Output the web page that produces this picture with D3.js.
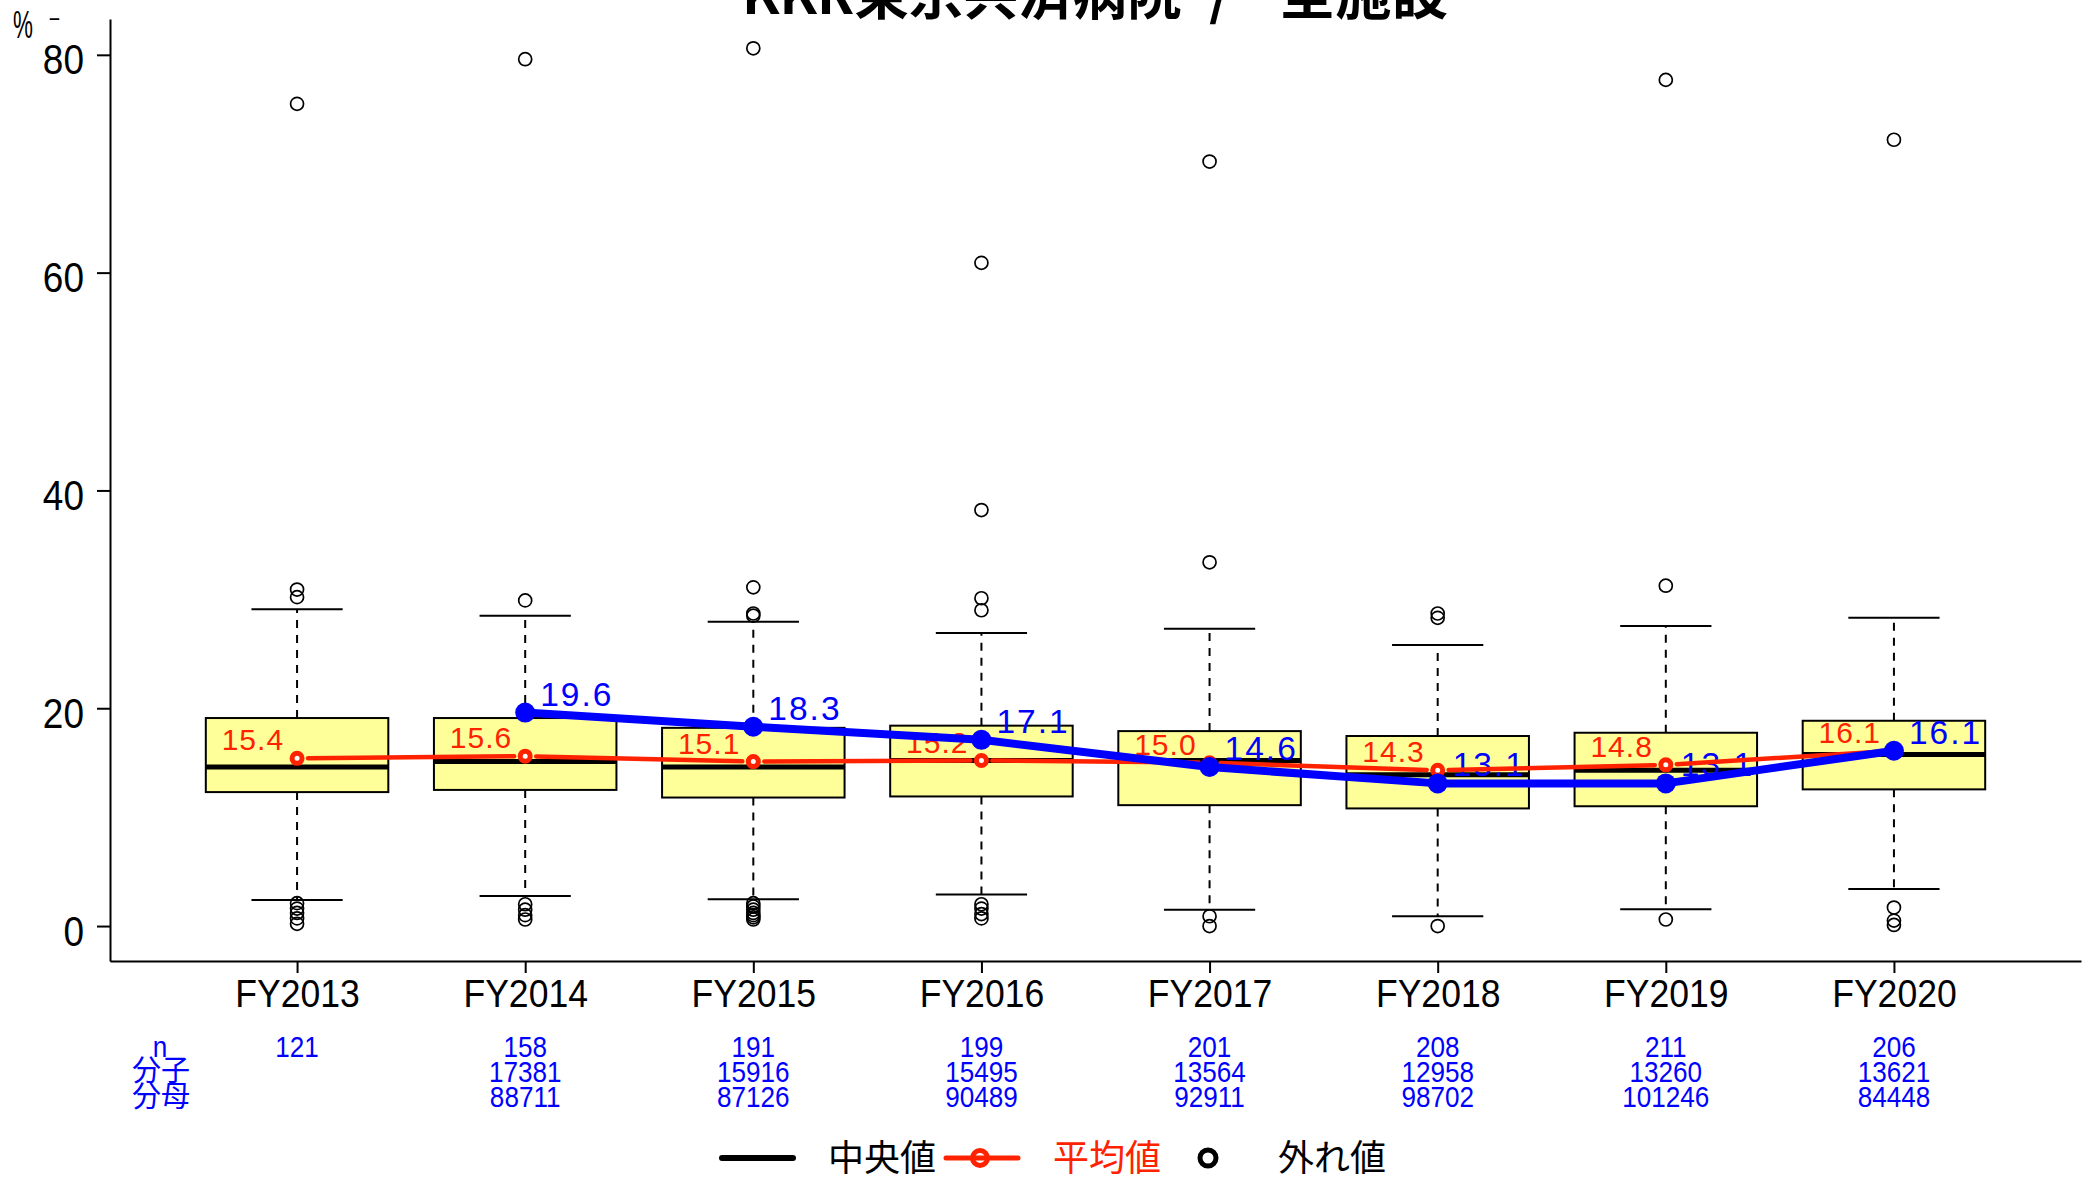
<!DOCTYPE html>
<html><head><meta charset="utf-8">
<script src="https://cdn.jsdelivr.net/npm/d3@7"></script>
<style>html,body{margin:0;padding:0;background:#fff;} svg{display:block;}</style>
</head><body>
<script>
// ---------------- data ----------------
const titleParts = ["KKR東京共済病院", "/", "全施設"];
const categories = ["FY2013","FY2014","FY2015","FY2016","FY2017","FY2018","FY2019","FY2020"];
const whiskerLow  = [2.4, 2.75, 2.45, 2.9, 1.5, 0.9, 1.55, 3.4];
const q1          = [12.3, 12.5, 11.8, 11.9, 11.1, 10.8, 11.0, 12.55];
const medians     = [14.6, 15.1, 14.6, 15.2, 15.2, 13.9, 14.3, 15.75];
const q3          = [19.1, 19.1, 18.2, 18.4, 17.9, 17.45, 17.75, 18.85];
const whiskerHigh = [29.1, 28.5, 27.95, 26.9, 27.3, 25.8, 27.55, 28.3];
const outliers = [
  [75.5, 30.9, 30.2, 2.1, 1.6, 1.2, 0.7, 0.2],
  [79.6, 29.9, 2.0, 1.5, 1.0, 0.6],
  [80.6, 31.1, 28.7, 28.5, 2.1, 1.8, 1.5, 1.2, 1.0, 0.8, 0.6],
  [60.9, 38.2, 30.1, 29.0, 2.0, 1.6, 1.1, 0.7],
  [70.2, 33.4, 0.9, 0.0],
  [28.7, 28.3, 0.0],
  [77.7, 31.25, 0.6],
  [72.2, 1.7, 0.5, 0.1]
];
const means       = [15.4, 15.6, 15.1, 15.2, 15.0, 14.3, 14.8, 16.1];
const hospital    = [null, 19.6, 18.3, 17.1, 14.6, 13.1, 13.1, 16.1];
const nCounts     = ["121","158","191","199","201","208","211","206"];
const numerators  = ["","17381","15916","15495","13564","12958","13260","13621"];
const denominators= ["","88711","87126","90489","92911","98702","101246","84448"];
const yTicks = [0, 20, 40, 60, 80];
const rowLabels = ["n", "分子", "分母"];
const legendLabels = ["中央値", "平均値", "外れ値"];

// ---------------- setup ----------------
const W = 2089, H = 1180;
const FONT = "'Liberation Sans', Arial, Helvetica, sans-serif";
const CJK = "'Noto Sans CJK JP', 'Noto Sans CJK SC', sans-serif";
const RED = "#FF2200", BLUE = "#0000FF", BOXFILL = "#FFFF99";

const svg = d3.select("body").append("svg").attr("width", W).attr("height", H)
  .style("background", "#fff");

const x = d3.scaleLinear().domain([0.18, 8.82]).range([110, 2081]);
const y = d3.scaleLinear().domain([-3.21, 83.29]).range([961, 19]);
const step = x(2) - x(1);
const boxW = step * 0.8, capW = boxW * 0.5;

function stext(g, tx, ty, str, size, sx, anchor, color, family, weight) {
  return g.append("text")
    .attr("transform", `translate(${tx},${ty}) scale(${sx},1)`)
    .attr("text-anchor", anchor || "middle")
    .attr("font-family", family || FONT)
    .attr("font-size", size)
    .attr("font-weight", weight || "normal")
    .attr("fill", color || "#000")
    .text(str);
}

// ---------------- title ----------------
const title = svg.append("text")
  .attr("y", 14)
  .attr("font-family", CJK).attr("font-weight", "bold").attr("font-size", 57);
title.append("tspan").attr("x", 742).attr("textLength", 440).attr("lengthAdjust", "spacingAndGlyphs").text(titleParts[0]);
title.append("tspan").attr("x", 1220).attr("text-anchor", "middle").text(" " + titleParts[1] + " ");
title.append("tspan").attr("x", 1279).attr("textLength", 169).attr("lengthAdjust", "spacingAndGlyphs").text(titleParts[2]);

// "% -" label top-left
stext(svg, 23, 38, "%", 38, 0.59, "middle");
stext(svg, 54.5, 27.5, "−", 26, 0.75, "middle");

// ---------------- axes ----------------
const yAxis = svg.append("g").attr("transform", "translate(110,0)")
  .call(d3.axisLeft(y).tickValues(yTicks).tickSize(13).tickSizeOuter(0).tickFormat(d3.format("d")));
yAxis.select(".domain").attr("stroke", "#000").attr("stroke-width", 2);
yAxis.selectAll(".tick line").attr("stroke", "#000").attr("stroke-width", 2);
yAxis.selectAll(".tick text")
  .attr("x", null).attr("dy", null)
  .attr("transform", "translate(-26,19) scale(0.86,1)")
  .attr("text-anchor", "end")
  .attr("font-family", FONT).attr("font-size", 43).attr("fill", "#000");

const xAxis = svg.append("g").attr("transform", "translate(0,961)")
  .call(d3.axisBottom(x).tickValues(d3.range(1, categories.length + 1)).tickSize(12).tickSizeOuter(0)
    .tickFormat(i => categories[i - 1]));
xAxis.select(".domain").attr("stroke", "#000").attr("stroke-width", 2);
xAxis.selectAll(".tick line").attr("stroke", "#000").attr("stroke-width", 2);
xAxis.selectAll(".tick text")
  .attr("y", null).attr("dy", null)
  .attr("transform", "translate(0,46) scale(0.9,1)")
  .attr("text-anchor", "middle")
  .attr("font-family", FONT).attr("font-size", 39.5).attr("fill", "#000");

// ---------------- boxplots ----------------
const boxes = svg.append("g");
categories.forEach((c, i) => {
  const cx = x(i + 1);
  const g = boxes.append("g");
  g.append("line").attr("x1", cx).attr("x2", cx).attr("y1", y(q3[i])).attr("y2", y(whiskerHigh[i]))
    .attr("stroke", "#000").attr("stroke-width", 2).attr("stroke-dasharray", "8,7");
  g.append("line").attr("x1", cx).attr("x2", cx).attr("y1", y(q1[i])).attr("y2", y(whiskerLow[i]))
    .attr("stroke", "#000").attr("stroke-width", 2).attr("stroke-dasharray", "8,7");
  [whiskerHigh[i], whiskerLow[i]].forEach(v => {
    g.append("line").attr("x1", cx - capW / 2).attr("x2", cx + capW / 2).attr("y1", y(v)).attr("y2", y(v))
      .attr("stroke", "#000").attr("stroke-width", 2);
  });
  g.append("rect").attr("x", cx - boxW / 2).attr("width", boxW)
    .attr("y", y(q3[i])).attr("height", y(q1[i]) - y(q3[i]))
    .attr("fill", BOXFILL).attr("stroke", "#000").attr("stroke-width", 2);
  g.append("line").attr("x1", cx - boxW / 2).attr("x2", cx + boxW / 2)
    .attr("y1", y(medians[i])).attr("y2", y(medians[i]))
    .attr("stroke", "#000").attr("stroke-width", 5);
  g.selectAll("circle.out").data(outliers[i]).enter().append("circle")
    .attr("class", "out").attr("cx", cx).attr("cy", d => y(d)).attr("r", 6.5)
    .attr("fill", "none").attr("stroke", "#000").attr("stroke-width", 1.7);
});

// ---------------- labels ----------------
const lab = svg.append("g");
means.forEach((m, i) => {
  lab.append("text").attr("x", x(i + 1) - 13).attr("y", y(m) - 8)
    .attr("text-anchor", "end").attr("font-family", FONT).attr("font-size", 30)
    .attr("letter-spacing", 1).attr("fill", RED).text(m.toFixed(1));
});
hospital.forEach((v, i) => {
  if (v == null) return;
  lab.append("text").attr("x", x(i + 1) + 15).attr("y", y(v) - 7)
    .attr("text-anchor", "start").attr("font-family", FONT).attr("font-size", 33.5)
    .attr("letter-spacing", 2).attr("fill", BLUE).text(v.toFixed(1));
});

// ---------------- mean line (type b, with gaps) ----------------
const meanPts = means.map((m, i) => [x(i + 1), y(m)]);
const gap = 11;
const redG = svg.append("g");
for (let i = 0; i < meanPts.length - 1; i++) {
  const [x0, y0] = meanPts[i], [x1, y1] = meanPts[i + 1];
  const dx = x1 - x0, dy = y1 - y0, L = Math.hypot(dx, dy);
  const ux = dx / L, uy = dy / L;
  redG.append("line")
    .attr("x1", x0 + ux * gap).attr("y1", y0 + uy * gap)
    .attr("x2", x1 - ux * gap).attr("y2", y1 - uy * gap)
    .attr("stroke", RED).attr("stroke-width", 4.5).attr("stroke-linecap", "round");
}
redG.selectAll("circle").data(means).enter().append("circle")
  .attr("cx", (d, i) => x(i + 1)).attr("cy", d => y(d)).attr("r", 5)
  .attr("fill", "#fff").attr("stroke", RED).attr("stroke-width", 5);

// ---------------- hospital line ----------------
const hospData = hospital.map((v, i) => ({i, v})).filter(d => d.v != null);
svg.append("path").datum(hospData)
  .attr("d", d3.line().x(d => x(d.i + 1)).y(d => y(d.v)))
  .attr("fill", "none").attr("stroke", BLUE).attr("stroke-width", 8).attr("stroke-linejoin", "round");
svg.append("g").selectAll("circle").data(hospData).enter().append("circle")
  .attr("cx", d => x(d.i + 1)).attr("cy", d => y(d.v)).attr("r", 10).attr("fill", BLUE);

// ---------------- table below axis ----------------
const tbl = svg.append("g");
const rowY = [1056.7, 1082, 1107];
[nCounts, numerators, denominators].forEach((row, r) => {
  row.forEach((s, i) => {
    if (!s) return;
    stext(tbl, x(i + 1), rowY[r], s, 30, 0.87, "middle", BLUE);
  });
});
stext(tbl, 160, rowY[0], rowLabels[0], 30, 0.87, "middle", BLUE);
stext(tbl, 161, 1081, rowLabels[1], 29, 1, "middle", BLUE, CJK);
stext(tbl, 161, 1107, rowLabels[2], 29, 1, "middle", BLUE, CJK);

// ---------------- legend ----------------
const lg = svg.append("g");
const ly = 1158;
lg.append("line").attr("x1", 722).attr("x2", 793).attr("y1", ly).attr("y2", ly)
  .attr("stroke", "#000").attr("stroke-width", 6).attr("stroke-linecap", "round");
lg.append("text").attr("x", 828).attr("y", 1171).attr("font-family", CJK).attr("font-size", 36)
  .attr("fill", "#000").text(legendLabels[0]);
lg.append("line").attr("x1", 946).attr("x2", 1018).attr("y1", ly).attr("y2", ly)
  .attr("stroke", RED).attr("stroke-width", 5).attr("stroke-linecap", "round");
lg.append("circle").attr("cx", 980).attr("cy", ly).attr("r", 7.5)
  .attr("fill", "none").attr("stroke", RED).attr("stroke-width", 5);
lg.append("text").attr("x", 1053).attr("y", 1171).attr("font-family", CJK).attr("font-size", 36)
  .attr("fill", RED).text(legendLabels[1]);
lg.append("circle").attr("cx", 1208).attr("cy", ly).attr("r", 8)
  .attr("fill", "none").attr("stroke", "#000").attr("stroke-width", 5);
lg.append("text").attr("x", 1278).attr("y", 1171).attr("font-family", CJK).attr("font-size", 36)
  .attr("fill", "#000").text(legendLabels[2]);
</script>
</body></html>
